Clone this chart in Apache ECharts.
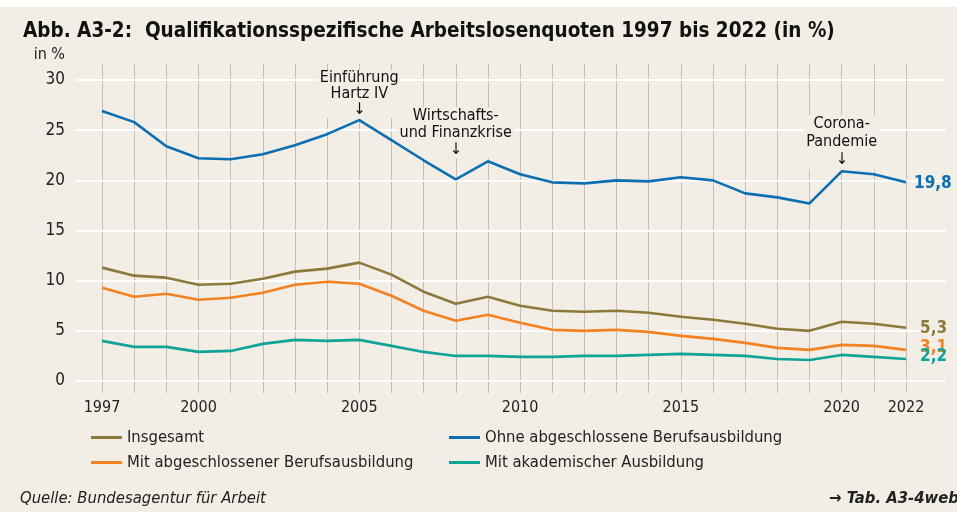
<!DOCTYPE html>
<html>
<head>
<meta charset="utf-8">
<script src="https://cdn.jsdelivr.net/npm/echarts@6/dist/echarts.min.js"></script>
<style>
  html, body { margin: 0; padding: 0; background: #fff; }
  #chart { width: 957px; height: 512px; }
</style>
</head>
<body>
<div id="chart"></div>
<script>
// Jahre 1997 bis 2022
const years = ['1997', '1998', '1999', '2000', '2001', '2002', '2003', '2004', '2005', '2006', '2007', '2008', '2009',
  '2010', '2011', '2012', '2013', '2014', '2015', '2016', '2017', '2018', '2019', '2020', '2021', '2022'];
const shownYears = ['1997', '2000', '2005', '2010', '2015', '2020', '2022'];

const insgesamt = [11.3, 10.5, 10.3, 9.6, 9.7, 10.2, 10.9, 11.2, 11.8, 10.6, 8.9, 7.7, 8.4,
  7.5, 7.0, 6.9, 7.0, 6.8, 6.4, 6.1, 5.7, 5.2, 5.0, 5.9, 5.7, 5.3];
const ohneAusbildung = [26.9, 25.8, 23.4, 22.2, 22.1, 22.6, 23.5, 24.6, 26.0, 24.0, 22.0, 20.1, 21.9,
  20.6, 19.8, 19.7, 20.0, 19.9, 20.3, 20.0, 18.7, 18.3, 17.7, 20.9, 20.6, 19.8];
const mitAusbildung = [9.3, 8.4, 8.7, 8.1, 8.3, 8.8, 9.6, 9.9, 9.7, 8.5, 7.0, 6.0, 6.6,
  5.8, 5.1, 5.0, 5.1, 4.9, 4.5, 4.2, 3.8, 3.3, 3.1, 3.6, 3.5, 3.1];
const akademisch = [4.0, 3.4, 3.4, 2.9, 3.0, 3.7, 4.1, 4.0, 4.1, 3.5, 2.9, 2.5, 2.5,
  2.4, 2.4, 2.5, 2.5, 2.6, 2.7, 2.6, 2.5, 2.2, 2.1, 2.6, 2.4, 2.2];

const yTicks = { min: 0, max: 30, step: 5 };

const font = "'Liberation Sans Narrow', 'DejaVu Sans Condensed', sans-serif";
const bg = '#f2ede5';
const colors = {
  insgesamt: '#8c7a3c',
  ohne: '#0b6fb2',
  mit: '#f58220',
  akad: '#10a398'
};

const fmt = v => v.toFixed(1).replace('.', ',');

function lineSeries(name, data, color, labelOffset) {
  return {
    name: name,
    type: 'line',
    xAxisIndex: 0,
    yAxisIndex: 0,
    data: data,
    symbol: 'none',
    z: 5,
    lineStyle: { color: color, width: 2.6 },
    itemStyle: { color: color },
    endLabel: {
      show: true,
      formatter: p => fmt(p.value),
      color: color,
      fontFamily: font,
      fontWeight: 'bold',
      fontSize: 17,
      offset: labelOffset
    }
  };
}

function note(year, value, text, distance, lh) {
  return {
    coord: [year, value],
    label: {
      show: true,
      position: 'top',
      distance: distance,
      formatter: text,
      color: '#111',
      fontFamily: font,
      fontSize: 16,
      lineHeight: lh,
      align: 'center',
      backgroundColor: bg,
      padding: [0, 2, 0, 2]
    }
  };
}

const chart = echarts.init(document.getElementById('chart'));

const ohneSeries = lineSeries('Ohne abgeschlossene Berufsausbildung', ohneAusbildung, colors.ohne, [0, 1]);
ohneSeries.markPoint = {
  symbol: 'circle',
  symbolSize: 0,
  silent: true,
  data: [
    note('2005', ohneAusbildung[years.indexOf('2005')], 'Einführung\nHartz IV\n↓', 2, 16),
    note('2008', ohneAusbildung[years.indexOf('2008')], 'Wirtschafts-\nund Finanzkrise\n↓', 21, 17),
    note('2020', ohneAusbildung[years.indexOf('2020')], 'Corona-\nPandemie\n↓', 2, 18)
  ]
};

const option = {
  backgroundColor: bg,
  animation: false,
  textStyle: { fontFamily: font },
  title: {
    text: 'Abb. A3-2:  Qualifikationsspezifische Arbeitslosenquoten 1997 bis 2022 (in %)',
    left: 18,
    top: 16,
    textStyle: { fontFamily: font, fontSize: 20.5, fontWeight: 'bold', color: '#111' }
  },
  graphic: [
    { type: 'rect', left: 0, top: 0, shape: { width: 957, height: 7 }, style: { fill: '#fff' } },
    { type: 'text', right: 892, top: 47, style: { text: 'in %', font: "16px " + font, fill: '#222' } },
    { type: 'text', left: 20, top: 490, style: { text: 'Quelle: Bundesagentur für Arbeit', font: "italic 16.5px " + font, fill: '#222' } },
    { type: 'text', right: -2, top: 490, style: { text: '→ Tab. A3-4web', font: "italic bold 16.5px " + font, fill: '#222' } }
  ],
  legend: [
    {
      left: 86, top: 424, orient: 'vertical', itemGap: 8,
      icon: 'rect', itemWidth: 31, itemHeight: 3,
      data: ['Insgesamt', 'Mit abgeschlossener Berufsausbildung'],
      textStyle: { fontFamily: font, fontSize: 16.5, color: '#222' }
    },
    {
      left: 444, top: 424, orient: 'vertical', itemGap: 8,
      icon: 'rect', itemWidth: 31, itemHeight: 3,
      data: ['Ohne abgeschlossene Berufsausbildung', 'Mit akademischer Ausbildung'],
      textStyle: { fontFamily: font, fontSize: 16.5, color: '#222' }
    }
  ],
  grid: [
    { left: 102, right: 51, top: 80, bottom: 131 },
    { left: 102, right: 51, top: 64, bottom: 119 },
    { left: 76, right: 11, top: 80, bottom: 131 }
  ],
  xAxis: [
    {
      type: 'category', gridIndex: 0, data: years, boundaryGap: false,
      axisLine: { show: false }, axisTick: { show: false }, splitLine: { show: false },
      axisLabel: {
        interval: (i, v) => shownYears.includes(v),
        margin: 19, fontFamily: font, fontSize: 16, color: '#222'
      }
    },
    {
      type: 'category', gridIndex: 1, data: years, boundaryGap: false,
      axisLine: { show: false }, axisTick: { show: false }, axisLabel: { show: false },
      splitLine: { show: true, interval: 0, lineStyle: { color: '#c3bfb8', width: 1 } }
    },
    { type: 'value', gridIndex: 2, show: false }
  ],
  yAxis: [
    { type: 'value', gridIndex: 0, min: yTicks.min, max: yTicks.max, interval: yTicks.step, show: false },
    { type: 'value', gridIndex: 1, show: false },
    {
      type: 'value', gridIndex: 2, min: yTicks.min, max: yTicks.max, interval: yTicks.step, z: 1,
      axisLine: { show: false }, axisTick: { show: false },
      axisLabel: { margin: 11, fontFamily: font, fontSize: 17, color: '#222' },
      splitLine: { lineStyle: { color: '#ffffff', width: 2.2 } }
    }
  ],
  series: [
    lineSeries('Insgesamt', insgesamt, colors.insgesamt, [6, 1]),
    ohneSeries,
    lineSeries('Mit abgeschlossener Berufsausbildung', mitAusbildung, colors.mit, [6, -2]),
    lineSeries('Mit akademischer Ausbildung', akademisch, colors.akad, [6, -2])
  ]
};

chart.setOption(option);
</script>
</body>
</html>
